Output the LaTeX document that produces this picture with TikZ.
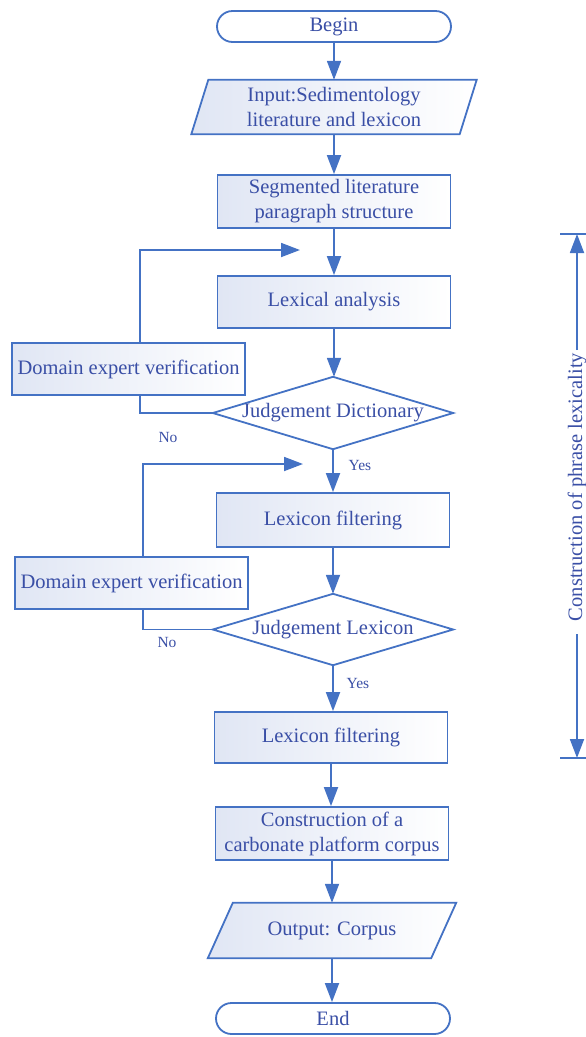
\documentclass[tikz,border=0pt]{standalone}
\usepackage{fontspec}
\setmainfont{Liberation Serif}
\usetikzlibrary{arrows.meta,backgrounds}
\definecolor{lc}{HTML}{4472C4}
\definecolor{tc}{HTML}{3A4FA6}
\definecolor{fc}{HTML}{E0E6F4}
\tikzset{
  txt/.style={text=tc, font=\fontsize{20.5}{25}\selectfont, align=center, inner sep=0pt},
  procbox/.style={txt, draw=lc, line width=1.8pt, rectangle, minimum width=233pt, minimum height=52pt, left color=fc, right color=white},
  termbox/.style={txt, draw=lc, line width=1.8pt, rectangle, rounded corners=15.5pt, minimum width=234pt, minimum height=31pt, fill=white},
  shapeline/.style={draw=lc, line width=1.8pt, line join=miter},
  conn/.style={draw=lc, line width=1.8pt, -{Triangle[length=19pt,width=14pt]}},
  plain/.style={draw=lc, line width=1.8pt},
  lbl/.style={text=tc, font=\fontsize{15.5}{18}\selectfont, inner sep=0pt},
}
\begin{document}
\begin{tikzpicture}[x=1pt,y=-1pt]
\useasboundingbox (0,0) rectangle (586,1037);

% main column
\node[termbox] (begin) at (334,26.5) {Begin};
\node[txt, minimum width=251pt, minimum height=54pt] (inp) at (334,107) {Input:Sedimentology\\literature and lexicon};
\node[procbox, minimum height=53pt] (seg) at (334,201.5) {Segmented literature\\paragraph structure};
\node[procbox] (lex) at (334,302) {Lexical analysis};
\node[txt, minimum width=240pt, minimum height=72pt] (d1) at (333,413) {Judgement Dictionary};
\node[procbox, minimum height=54pt] (lf1) at (333,520) {Lexicon filtering};
\node[txt, minimum width=240pt, minimum height=71pt] (d2) at (333,629.5) {Judgement Lexicon};
\node[procbox, minimum height=51pt] (lf2) at (331,737.5) {Lexicon filtering};
\node[procbox, minimum height=53pt] (con) at (332,833.5) {Construction of a\\carbonate platform corpus};
\node[txt, minimum width=198pt, minimum height=55pt] (out) at (332,930.5) {Output: Corpus};
\node[termbox] (end) at (333,1018.5) {End};

% side boxes
\node[procbox] (dev1) at (128.5,369) {Domain expert verification};
\node[procbox] (dev2) at (131.5,583) {Domain expert verification};

% shapes drawn behind texts
\begin{scope}[on background layer]
  \path[shapeline, left color=fc, right color=white] (inp.north west) -- ([xshift=17pt]inp.north east) -- (inp.south east) -- ([xshift=-17pt]inp.south west) -- cycle;
  \path[shapeline, left color=fc, right color=white] (out.north west) -- ([xshift=25pt]out.north east) -- (out.south east) -- ([xshift=-25pt]out.south west) -- cycle;
  \path[shapeline, fill=white] (d1.north) -- (d1.east) -- (d1.south) -- (d1.west) -- cycle;
  \path[shapeline, fill=white] (d2.north) -- (d2.east) -- (d2.south) -- (d2.west) -- cycle;
\end{scope}

% main connectors
\draw[conn] (begin) -- (inp);
\draw[conn] (inp) -- (seg);
\draw[conn] (seg.south) -- (seg.south |- lex.north);
\draw[conn] (lex.south) -- (lex.south |- d1.north);
\draw[conn] (d1.south) -- (d1.south |- lf1.north);
\draw[conn] (lf1.south) -- (lf1.south |- d2.north);
\draw[conn] (d2.south) -- (d2.south |- lf2.north);
\draw[conn] (lf2.south) -- (lf2.south |- con.north);
\draw[conn] (con.south) -- (con.south |- out.north);
\draw[conn] (out.south) -- (out.south |- end.north);

% feedback loops
\coordinate (c1) at (140,250);
\coordinate (a1) at (300,250);
\draw[plain] (d1.west) -| (c1 |- dev1.south);
\draw[conn] (c1 |- dev1.north) -- (c1) -- (a1);
\coordinate (c2) at (143,464);
\coordinate (a2) at (303,464);
\draw[plain] (d2.west) -| (c2 |- dev2.south);
\draw[conn] (c2 |- dev2.north) -- (c2) -- (a2);

% labels
\node[lbl] (no1) at (168,437) {No};
\node[lbl] (yes1) at (360,465) {Yes};
\node[lbl] (no2) at (167,642) {No};
\node[lbl] (yes2) at (358,683) {Yes};

% bracket
\coordinate (bt) at (577,234);
\coordinate (bb) at (577,758);
\coordinate (btl) at (560,234);
\coordinate (btr) at (586,234);
\coordinate (bbl) at (560,758);
\coordinate (bbr) at (586,758);
\coordinate (bu) at (577,350);
\coordinate (bl) at (577,634);
\draw[plain] (btl) -- (btr);
\draw[plain] (bbl) -- (bbr);
\node[txt, rotate=90] (brk) at (577,487) {Construction of phrase lexicality};
\draw[conn] (bu) -- (bt);
\draw[conn] (bl) -- (bb);
\end{tikzpicture}
\end{document}
